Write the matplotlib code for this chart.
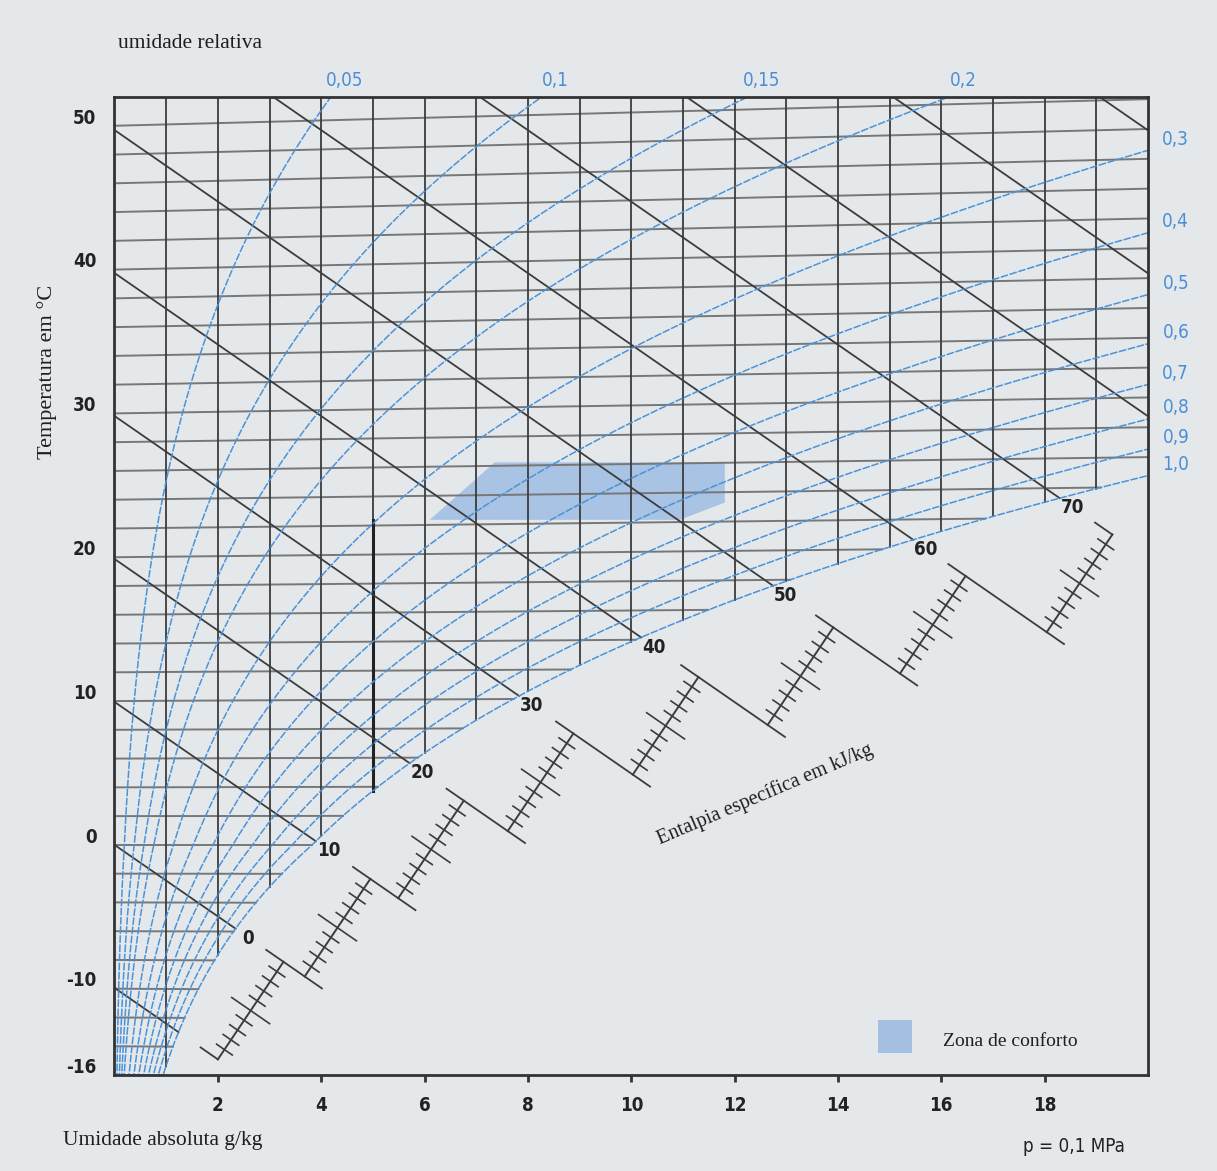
import numpy as np
import matplotlib
matplotlib.use("Agg")
import matplotlib.pyplot as plt
from matplotlib.patches import Polygon, Rectangle
from matplotlib.transforms import ScaledTranslation

# ---- chart values ----
p_kpa = 100.0  # p = 0,1 MPa
rh_levels = [0.05, 0.1, 0.15, 0.2, 0.3, 0.4, 0.5, 0.6, 0.7, 0.8, 0.9, 1.0]
rh_top = [0.05, 0.1, 0.15, 0.2]
rh_top_labels = ['0,05', '0,1', '0,15', '0,2']
rh_right = [0.3, 0.4, 0.5, 0.6, 0.7, 0.8, 0.9, 1.0]
rh_right_labels = ['0,3', '0,4', '0,5', '0,6', '0,7', '0,8', '0,9', '1,0']
isotherms = np.arange(-16, 51, 2)
enthalpies = np.arange(-10, 101, 10)
enthalpy_labels = [0, 10, 20, 30, 40, 50, 60, 70]
x_lines = np.arange(1, 20)
x_ticks = [2, 4, 6, 8, 10, 12, 14, 16, 18]
t_ticks = [-16, -10, 0, 10, 20, 30, 40, 50]
ruler_h0 = [-10, 0, 10, 20, 30, 40, 50, 60]
ruler_x0 = [2.00, 3.68, 5.49, 7.61, 10.03, 12.64, 15.20, 18.04]
ruler_dx = 1.27
comfort_x = [6.10, 7.36, 11.81, 11.81, 10.94]
comfort_y = [22.6, 26.6, 26.6, 23.8, 22.6]
dew_x = 5
dew_top = 22.6

XMIN, XMAX, YMIN, YMAX = 0, 20, -16, 52

BG = '#e5e8eb'
DARK = '#3c3c3c'
GRAYLINE = '#777777'
BLUE = '#4b93d8'
BLUE_TXT = '#4a8fd6'
NUM = dict(family=['DejaVu Sans'], fontstretch='condensed')
SERIF = ['Liberation Serif', 'DejaVu Serif']


def p_sat(t):
    t = np.asarray(t, float)
    return np.where(t >= 0, 0.6112 * np.exp(17.62 * t / (243.12 + t)),
                    0.6112 * np.exp(22.46 * t / (272.62 + t)))


def hum_ratio(t, phi):
    pv = phi * p_sat(t)
    return 622.0 * pv / (p_kpa - pv)


def ycoord(t, x):
    return t * (1 + 0.00186 * x / 1.006)


def y_of_h(h, x):
    return (h - 2.501 * x) / 1.006


fig = plt.figure(figsize=(12.17, 11.71), dpi=100)
fig.patch.set_facecolor(BG)
L, R, B, T = 114.5, 1148, 1075, 97
ax = fig.add_axes([L / 1217, 1 - B / 1171, (R - L) / 1217, (B - T) / 1171])
ax.set_facecolor(BG)
ax.set_xlim(XMIN, XMAX)
ax.set_ylim(YMIN, YMAX)
sx = (R - L) / (XMAX - XMIN)
sy = (B - T) / (YMAX - YMIN)

tt = np.linspace(-25, 60, 3000)
xs = hum_ratio(tt, 1.0)
ys = ycoord(tt, xs)
hs = 1.006 * tt + xs * (2.501 + 0.00186 * tt)

# isotherms
for t in isotherms:
    xe = min(float(hum_ratio(t, 1.0)), XMAX)
    xx = np.linspace(0, xe, 50)
    ax.plot(xx, ycoord(t, xx), color=GRAYLINE, lw=1.4, zorder=2)

# vertical lines of constant humidity
for xv in x_lines:
    y0 = max(np.interp(xv, xs, ys), YMIN)
    ax.plot([xv, xv], [y0, YMAX], color=DARK, lw=1.3, zorder=3)
ysd = np.interp(dew_x, xs, ys)
ax.plot([dew_x, dew_x], [ysd, dew_top], color='#222222', lw=2.2, zorder=3)

# isenthalps
h_ends = {}
for h in enthalpies:
    xe = np.interp(h, hs, xs)
    xstart = max(0.0, (h - 1.006 * YMAX) / 2.501)
    ax.plot([xstart, xe], [y_of_h(h, xstart), y_of_h(h, xe)], color=DARK, lw=1.3, zorder=3)
    h_ends[h] = (xe, y_of_h(h, xe))

for h in enthalpy_labels:
    xe, ye = h_ends[h]
    ax.annotate(str(h), (xe, ye), xytext=(9, -7), textcoords='offset points',
                ha='center', va='center', fontsize=13.5, fontweight='bold',
                color='#222222', **NUM)

# relative humidity curves
for phi in rh_levels:
    xx = hum_ratio(tt, phi)
    ax.plot(xx, ycoord(tt, xx), color=BLUE, lw=1.1, ls=(0, (5, 1)), zorder=4)

for phi, lab in zip(rh_top, rh_top_labels):
    xx = hum_ratio(tt, phi)
    yy = ycoord(tt, xx)
    xtop = np.interp(YMAX, yy, xx)
    ax.annotate(lab, (xtop, YMAX), xytext=(10, 12), textcoords='offset points',
                ha='center', va='center', fontsize=13.5, color=BLUE_TXT,
                annotation_clip=False, **NUM)

for phi, lab in zip(rh_right, rh_right_labels):
    xx = hum_ratio(tt, phi)
    yy = ycoord(tt, xx)
    yr = np.interp(XMAX, xx, yy)
    ax.annotate(lab, (XMAX, yr), xytext=(20, 8), textcoords='offset points',
                ha='center', va='center', fontsize=13.5, color=BLUE_TXT,
                annotation_clip=False, **NUM)

# comfort zone
ax.add_patch(Polygon(np.column_stack([comfort_x, comfort_y]), closed=True,
                     facecolor='#a3c0e3', edgecolor='none', alpha=0.92, zorder=1.5))

# enthalpy scale outside the saturation line
ux, uy = 51.68, -35.75
n = np.hypot(ux, uy)
ux, uy = ux / n, uy / n


def off(px):
    return px * ux / sx, px * uy / sy


tops = []
for k, (h0, xb) in enumerate(zip(ruler_h0, ruler_x0)):
    base = np.array([xb, y_of_h(h0, xb)])
    top = np.array([xb + ruler_dx, y_of_h(h0 + 10, xb + ruler_dx)])
    ax.plot([base[0], top[0]], [base[1], top[1]], color=DARK, lw=1.4, zorder=3)
    for i in range(1, 10):
        p = base + (top - base) * i / 10
        hl = 23 if i == 5 else 9.5
        dx, dy = off(hl)
        ax.plot([p[0] - dx, p[0] + dx], [p[1] - dy, p[1] + dy], color=DARK, lw=1.2, zorder=3)
    dx, dy = off(21)
    if k == 0:
        ax.plot([base[0] - dx, base[0]], [base[1] - dy, base[1]], color=DARK, lw=1.3, zorder=3)
    else:
        pt = tops[-1]
        ax.plot([pt[0] - dx, base[0] + dx], [pt[1] - dy, base[1] + dy], color=DARK, lw=1.3, zorder=3)
    tops.append(top)
dx, dy = off(21)
ax.plot([tops[-1][0] - dx, tops[-1][0]], [tops[-1][1] - dy, tops[-1][1]], color=DARK, lw=1.3, zorder=3)

# axes styling
for s in ax.spines.values():
    s.set_color('#333333')
    s.set_linewidth(2)
    s.set_zorder(6)
ax.set_xticks(x_ticks)
ax.set_xticklabels([str(v) for v in x_ticks], fontsize=13.5, fontweight='bold', **NUM)
ax.set_yticks(t_ticks)
ax.set_yticklabels([str(v) for v in t_ticks], fontsize=13.5, fontweight='bold', **NUM)
ax.tick_params(axis='x', direction='out', length=5, width=2, color='#333333', pad=10, labelcolor='#222222')
ax.tick_params(axis='y', length=0, pad=13, labelcolor='#222222')
for lab in ax.get_yticklabels():
    lab.set_transform(lab.get_transform() + ScaledTranslation(0, 7 / 72, fig.dpi_scale_trans))

# texts
fig.text(118 / 1217, 1 - 43 / 1171, 'umidade relativa', family=SERIF, fontsize=15.5,
         ha='left', va='center', color='#1e1e1e')
fig.text(47 / 1217, 1 - 372 / 1171, 'Temperatura em °C', family=SERIF, fontsize=16,
         rotation=90, ha='center', va='center', color='#1e1e1e')
fig.text(63 / 1217, 1 - 1141 / 1171, 'Umidade absoluta g/kg', family=SERIF, fontsize=15.5,
         ha='left', va='center', color='#1e1e1e')
fig.text(1125 / 1217, 1 - 1146 / 1171, 'p = 0,1 MPa', fontsize=13.5,
         ha='right', va='center', color='#222222', **NUM)
fig.text(765 / 1217, 1 - 794 / 1171, 'Entalpia específica em kJ/kg', family=SERIF,
         fontsize=14.6, rotation=23, ha='center', va='center', rotation_mode='anchor',
         color='#1e1e1e')
fig.patches.append(Rectangle((878 / 1217, 1 - 1053 / 1171), 34 / 1217, 33 / 1171,
                             transform=fig.transFigure, facecolor='#a3c0e3', edgecolor='none'))
fig.text(943 / 1217, 1 - 1041 / 1171, 'Zona de conforto', family=SERIF, fontsize=14,
         ha='left', va='center', color='#1e1e1e')

fig.savefig('out.png', dpi=100, facecolor=BG)
